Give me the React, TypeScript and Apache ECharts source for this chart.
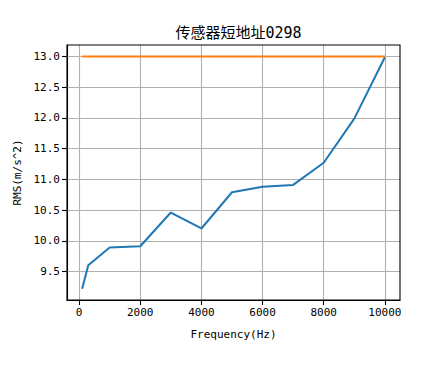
import React, { useEffect, useRef } from "react";
import * as echarts from "echarts";

const titleText = "传感器短地址0298";
const xName = "Frequency(Hz)";
const yName = "RMS(m/s^2)";

const frequencies = [100, 300, 1000, 2000, 3000, 4000, 5000, 6000, 7000, 8000, 9000, 10000];
const rmsValues = [9.22, 9.6, 9.89, 9.91, 10.46, 10.2, 10.79, 10.88, 10.91, 11.27, 11.99, 12.99];
const limitX = [100, 10000];
const limitY = [13.0, 13.0];

const xTicks = [0, 2000, 4000, 6000, 8000, 10000];
const yTicks = [9.5, 10.0, 10.5, 11.0, 11.5, 12.0, 12.5, 13.0];

const monoFont = "'DejaVu Sans Mono', 'Noto Sans CJK SC', monospace";

export default function App() {
  const ref = useRef<HTMLDivElement>(null);
  useEffect(() => {
    if (!ref.current) return;
    const chart = echarts.init(ref.current, null, { renderer: "svg" });
    const xMin = -395;
    const xMax = 10495;
    const yMin = 9.035;
    const yMax = 13.189;
    const gridData: any[] = [
      ...xTicks.map((v) => ({ xAxis: v })),
      ...yTicks.map((v) => ({ yAxis: v })),
    ];
    chart.setOption({
      animation: false,
      backgroundColor: "#ffffff",
      title: {
        text: titleText,
        left: 233.5,
        textAlign: "center",
        top: 20,
        textStyle: { fontFamily: monoFont, fontSize: 15, fontWeight: "normal", color: "#000" },
      },
      grid: {
        left: 67,
        right: 44,
        top: 45,
        bottom: 76,
        show: true,
        borderColor: "#000",
        borderWidth: 1.1,
        backgroundColor: "transparent",
        z: 4,
      },
      xAxis: {
        type: "value",
        min: xMin,
        max: xMax,
        name: xName,
        nameLocation: "middle",
        nameGap: 29,
        nameTextStyle: { fontFamily: monoFont, fontSize: 11, color: "#000" },
        axisLine: { show: true, onZero: false, lineStyle: { color: "#000", width: 1.1 } },
        axisTick: { show: true, inside: false, length: 5, customValues: xTicks, lineStyle: { color: "#000", width: 1.1 } },
        axisLabel: {
          customValues: xTicks,
          fontFamily: monoFont,
          fontSize: 11,
          color: "#000",
          margin: 7,
          formatter: (v: number) => String(Math.round(v)),
        },
        splitLine: { show: false },
      },
      yAxis: {
        type: "value",
        min: yMin,
        max: yMax,
        name: yName,
        nameLocation: "middle",
        nameGap: 44,
        nameRotate: 90,
        nameTextStyle: { fontFamily: monoFont, fontSize: 11, color: "#000" },
        axisLine: { show: true, onZero: false, lineStyle: { color: "#000", width: 1.1 } },
        axisTick: { show: true, inside: false, length: 5, customValues: yTicks, lineStyle: { color: "#000", width: 1.1 } },
        axisLabel: {
          customValues: yTicks,
          fontFamily: monoFont,
          fontSize: 11,
          color: "#000",
          margin: 7,
          formatter: (v: number) => v.toFixed(1),
        },
        splitLine: { show: false },
      },
      series: [
        {
          type: "line",
          z: 1,
          data: [[xMin, yMin]],
          showSymbol: false,
          lineStyle: { opacity: 0 },
          silent: true,
          markLine: {
            silent: true,
            z: 1,
            symbol: ["none", "none"],
            label: { show: false },
            lineStyle: { color: "#b0b0b0", width: 1.1, type: "solid" },
            emphasis: { disabled: true },
            data: gridData,
          },
        },
        {
          type: "line",
          z: 3,
          data: frequencies.map((f, i) => [f, rmsValues[i]]),
          showSymbol: false,
          lineStyle: { color: "#1f77b4", width: 2 },
          itemStyle: { color: "#1f77b4" },
        },
        {
          type: "line",
          z: 3,
          data: limitX.map((f, i) => [f, limitY[i]]),
          showSymbol: false,
          lineStyle: { color: "#ff7f0e", width: 2 },
          itemStyle: { color: "#ff7f0e" },
        },
      ],
    });
    return () => chart.dispose();
  }, []);
  return <div ref={ref} style={{ width: 444, height: 376, position: "absolute", left: 0, top: 0 }} />;
}
